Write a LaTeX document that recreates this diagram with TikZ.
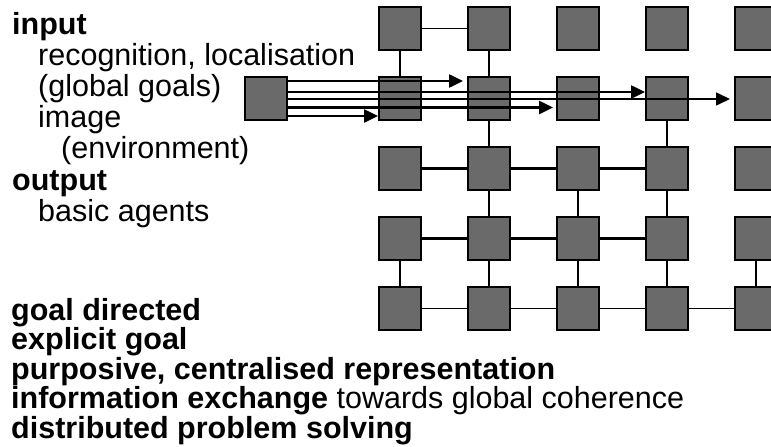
\documentclass[tikz,border=0pt]{standalone}
\usepackage{fontspec}
\setmainfont{Liberation Sans}
\usetikzlibrary{arrows.meta}
\definecolor{sqfill}{RGB}{106,106,106}
\begin{document}
\begin{tikzpicture}[x=1pt,y=-1pt,
  sq/.style={draw=black,line width=2pt,fill=sqfill,minimum width=42pt,minimum height=43pt,inner sep=0pt,outer sep=0pt},
  thk/.style={line width=2.3pt},
  thn/.style={line width=1.5pt},
  arr/.style={line width=2.5pt,-{Triangle[length=14pt,width=13pt]}},
  arrthin/.style={line width=1.5pt,-{Triangle[length=14pt,width=13pt]}},
  txt/.style={anchor=base west,inner sep=0pt,font=\fontsize{30.5}{31}\selectfont},
  btxt/.style={txt,font=\fontsize{30.5}{31}\selectfont\bfseries}]
\useasboundingbox (0,0) rectangle (771,447);
\clip (0,0) rectangle (771,447);
% grid
\foreach \r/\y in {1/28.5,2/98.5,3/168.5,4/238.5,5/308.5}
  \foreach \c/\x in {1/400,2/489,3/578,4/667,5/756}
    \node[sq] (s\r\c) at (\x,\y) {};
\node[sq] (in) at (266,98.5) {};
% thin connectors
\foreach \a/\b in {s11/s12,s11/s21,s41/s51,s51/s52,s52/s53,s33/s43,s43/s53,s45/s55,s53/s54,s54/s55}
  \draw[thn] (\a) -- (\b);
% thick connectors
\foreach \a/\b in {s12/s22,s22/s32,s24/s34,s31/s32,s32/s33,s33/s34,s32/s42,s34/s44,s41/s42,s42/s43,s43/s44,s42/s52,s44/s54}
  \draw[thk] (\a) -- (\b);
% arrows
\draw[arr,shorten >=5pt] (in.east |- 0,81) -- (s22.west |- 0,81);
\draw[arr,shorten >=1pt] (in.east |- 0,92) -- (s24.west |- 0,92);
\draw[arrthin,shorten >=5pt] (in.east |- 0,99) -- (s25.west |- 0,99);
\draw[arr,shorten >=4pt] (in.east |- 0,107.5) -- (s23.west |- 0,107.5);
\draw[arr,shorten >=1pt] (in.east |- 0,116) -- (s21.west |- 0,116);
% texts
\node[btxt] (t1) at (12,34) {input};
\node[txt] (t2) at (38,65) {recognition, localisation};
\node[txt] (t3) at (38,96) {(global goals)};
\node[txt] (t4) at (38,127) {image};
\node[txt] (t5) at (61,158) {(environment)};
\node[btxt] (t6) at (12,190) {output};
\node[txt] (t7) at (38,221) {basic agents};
\node[btxt] (b1) at (11,320) {goal directed};
\node[btxt] (b2) at (11,349.5) {explicit goal};
\node[btxt] (b3) at (11,379) {purposive, centralised representation};
\node[txt] (b4) at (11,408.5) {\textbf{information exchange} towards global coherence};
\node[btxt] (b5) at (11,438) {distributed problem solving};
\end{tikzpicture}
\end{document}
